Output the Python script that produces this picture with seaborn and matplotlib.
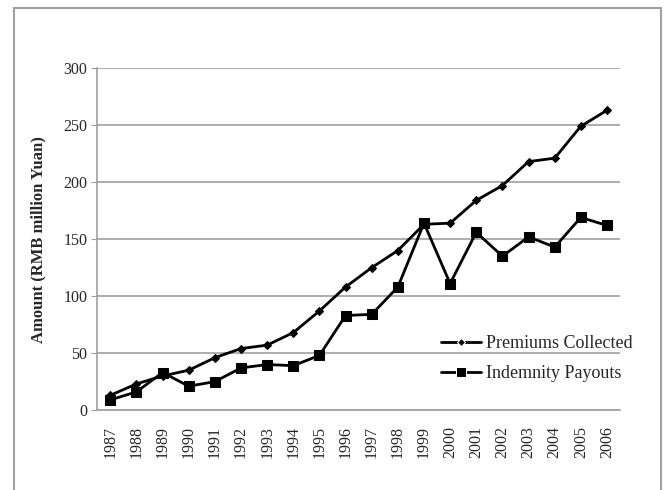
import matplotlib
matplotlib.use("Agg")
import matplotlib.pyplot as plt
import seaborn as sns
import pandas as pd
from matplotlib.patches import Rectangle

years = [str(y) for y in range(1987, 2007)]
premiums = [13, 23, 30, 35, 46, 54, 57, 68, 87, 108, 125, 140, 163, 164, 184, 197, 218, 221, 249, 263]
payouts = [9, 16, 33, 21, 25, 37, 40, 39, 48, 83, 84, 108, 164, 111, 156, 135, 152, 143, 169, 162]

df = pd.DataFrame({"year": years * 2,
                   "amount": premiums + payouts,
                   "series": ["Premiums Collected"] * len(years) + ["Indemnity Payouts"] * len(years)})

sns.set_style("white")
plt.rcParams["font.family"] = ["Liberation Serif", "DejaVu Serif"]

fig = plt.figure(figsize=(6.66, 4.9), dpi=100)
ax = fig.add_axes([0.146, 0.163, 0.785, 0.698])

sns.lineplot(data=df, x="year", y="amount", hue="series", style="series",
             markers={"Premiums Collected": "D", "Indemnity Payouts": "s"},
             dashes=False, palette={"Premiums Collected": "black", "Indemnity Payouts": "black"},
             linewidth=2, ax=ax)
for line, ms in zip(ax.lines, [4.5, 7]):
    line.set_markersize(ms)
    line.set_markeredgecolor("black")

ax.set_xlim(-0.5, len(years) - 0.5)
ax.set_ylim(0, 300)
ax.set_yticks(range(0, 301, 50))
ax.yaxis.grid(True, color="#a0a0a0", linewidth=1.2)
ax.set_axisbelow(True)
for s in ["top", "right"]:
    ax.spines[s].set_visible(False)
for s in ["left", "bottom"]:
    ax.spines[s].set_color("#a0a0a0")
    ax.spines[s].set_linewidth(1.2)
ax.tick_params(axis="y", left=True, length=4, color="#a0a0a0", labelsize=11.5, pad=3)
ax.tick_params(axis="x", bottom=False, labelsize=11.5, pad=8)
plt.setp(ax.get_xticklabels(), rotation=90)
ax.set_xlabel("")
ax.set_ylabel("Amount (RMB million Yuan)", fontsize=12, fontweight="bold", labelpad=12)

leg = ax.legend(loc="lower right", bbox_to_anchor=(1.055, 0.035), frameon=False, fontsize=13,
                handlelength=2.2, labelspacing=0.7, handletextpad=0.3)
for h, ms in zip(leg.legend_handles, [4.5, 7]):
    h.set_markersize(ms)

fig.patches.append(Rectangle((0.021, -0.05), 0.972, 1.034, transform=fig.transFigure,
                             fill=False, edgecolor="#a0a0a0", linewidth=1.5))

fig.savefig("out.png", dpi=100)
